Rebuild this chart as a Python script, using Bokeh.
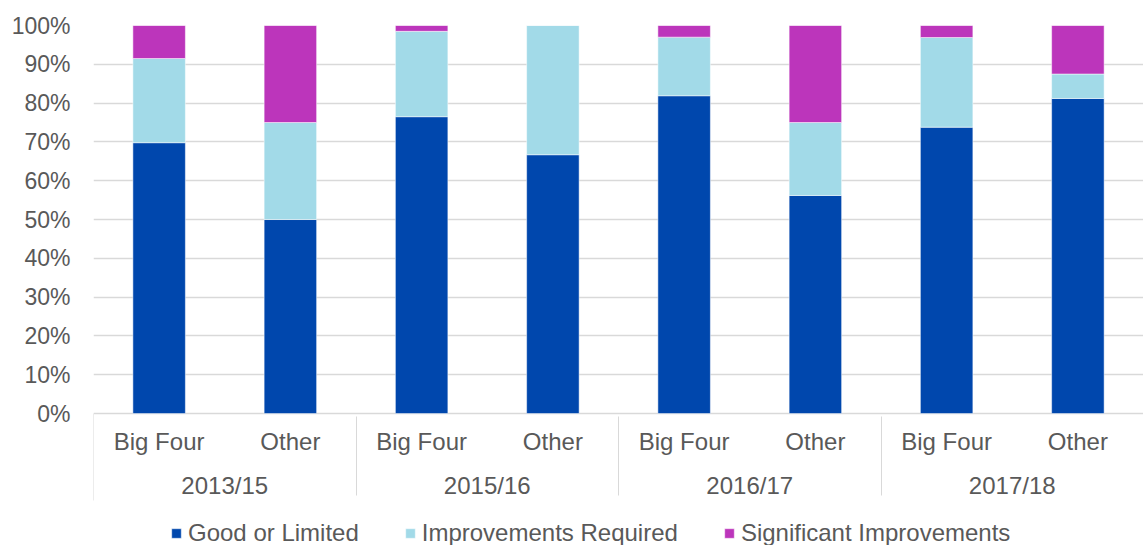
from bokeh.plotting import figure
from bokeh.models import (ColumnDataSource, FactorRange, Legend, LegendItem,
                          PrintfTickFormatter, FixedTicker, Range1d)
from bokeh.embed import file_html
from bokeh.resources import INLINE

years = ["2013/15", "2015/16", "2016/17", "2017/18"]
firms = ["Big Four", "Other"]
series = ["Good or Limited", "Improvements Required", "Significant Improvements"]
good = [69.8, 50.0, 76.5, 66.7, 81.9, 56.2, 73.8, 81.2]
improvements = [21.7, 25.0, 22.0, 33.3, 15.1, 18.8, 23.1, 6.3]
significant = [8.5, 25.0, 1.5, 0.0, 3.0, 25.0, 3.1, 12.5]
y_ticks = [0, 10, 20, 30, 40, 50, 60, 70, 80, 90, 100]

colors = ["#0047ad", "#a2dae8", "#bc35bb"]
FONT = "Liberation Sans"
TXT = "#595959"
GRID = "#d9d9d9"

factors = [(y, f) for y in years for f in firms]
source = ColumnDataSource(dict(x=factors, good=good, imp=improvements, sig=significant))

# the frame runs down to the bottom edge; the category axis is pinned at y=0
PLOT_BOTTOM = -34.0
SEP_DEPTH = -22.4

p = figure(width=1143, height=545, output_backend="svg", toolbar_location=None,
           x_range=FactorRange(*factors, group_padding=0, factor_padding=0, range_padding=0),
           y_range=Range1d(PLOT_BOTTOM, 100), min_border_left=93, min_border_right=0,
           min_border_top=25, min_border_bottom=0)
p.outline_line_color = None
p.background_fill_color = "white"
p.border_fill_color = "white"

renderers = p.vbar_stack(["good", "imp", "sig"], x="x", width=0.4, source=source,
                         color=colors, line_color="white", line_width=0.5)

# left edge separator of the category axis
p.segment(x0=[0], y0=[0], x1=[0], y1=[SEP_DEPTH], line_color=GRID, line_width=1)

# axes
p.yaxis.ticker = FixedTicker(ticks=y_ticks)
p.yaxis.formatter = PrintfTickFormatter(format="%d%%")
p.yaxis.axis_line_color = None
p.yaxis.major_tick_line_color = None
p.yaxis.minor_tick_line_color = None
p.yaxis.major_tick_out = 0
p.yaxis.major_tick_in = 0
p.yaxis.major_label_standoff = 23
p.yaxis.major_label_text_font = FONT
p.yaxis.major_label_text_font_size = "23px"
p.yaxis.major_label_text_color = TXT

xa = p.xaxis[0]
xa.fixed_location = 0
xa.axis_line_color = None
xa.major_tick_line_color = None
xa.minor_tick_line_color = None
xa.major_tick_out = 0
xa.major_tick_in = 0
xa.major_label_standoff = 14
xa.major_label_orientation = "horizontal"
xa.major_label_text_font = FONT
xa.major_label_text_font_size = "24px"
xa.major_label_text_color = TXT
xa.group_text_font = FONT
xa.group_text_font_size = "24px"
xa.group_text_font_style = "normal"
xa.group_text_color = TXT
xa.group_label_orientation = "horizontal"
xa.separator_line_color = GRID
xa.separator_line_width = 1

p.xgrid.grid_line_color = None
p.ygrid.grid_line_color = GRID
p.ygrid.grid_line_width = 1.3

items = [LegendItem(label=s, renderers=[r]) for s, r in zip(series, renderers)]
legend = Legend(items=items, orientation="horizontal", location=(77, -2),
                glyph_width=12, glyph_height=12, label_standoff=6, spacing=45,
                padding=0, margin=0, border_line_color=None, background_fill_alpha=0,
                label_text_font=FONT, label_text_font_size="24px", label_text_color=TXT)
p.add_layout(legend, "center")

open("out.html", "w").write(file_html(p, INLINE))
